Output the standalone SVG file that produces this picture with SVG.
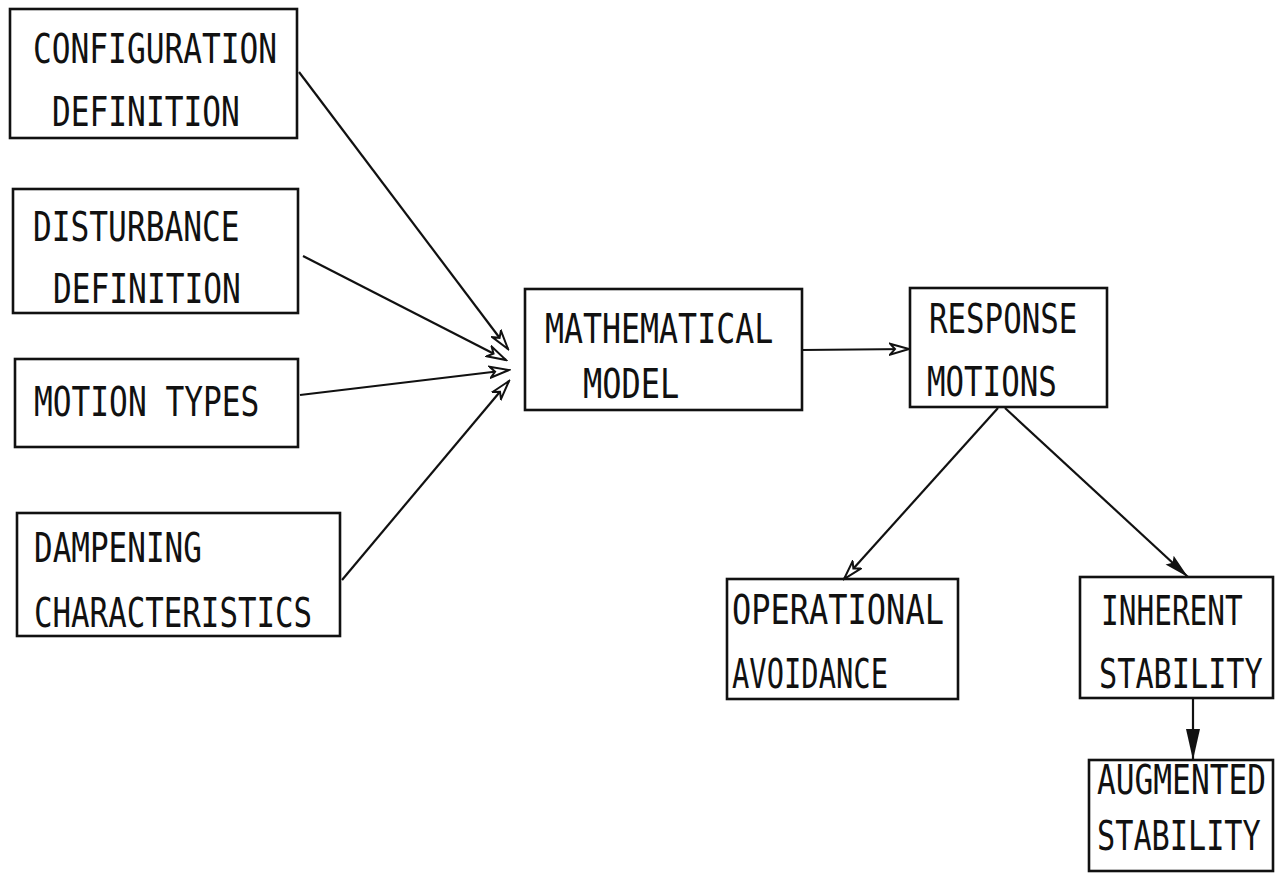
<svg xmlns="http://www.w3.org/2000/svg" width="1275" height="873" viewBox="0 0 1275 873">
<style>
.box{fill:none;stroke:#111;stroke-width:2.6}
.t{font-family:"DejaVu Sans Mono","Liberation Mono",monospace;font-size:40px;fill:#111}
.c{fill:none;stroke:#111;stroke-width:2.2}
</style>
<defs>
<marker id="open" markerUnits="userSpaceOnUse" markerWidth="22" markerHeight="14" refX="20" refY="7" orient="auto">
<path d="M1,1.5 L20,7 L1,12.5 L6,7 z" fill="#fff" stroke="#111" stroke-width="2"/>
</marker>
<marker id="fill" markerUnits="userSpaceOnUse" markerWidth="26" markerHeight="14" refX="25" refY="7" orient="auto">
<path d="M0,1 L25,7 L0,13 L4,7 z" fill="#111"/>
</marker>
<marker id="fillBig" markerUnits="userSpaceOnUse" markerWidth="32" markerHeight="16" refX="31" refY="8" orient="auto">
<path d="M0,1 L31,8 L0,15 z" fill="#111"/>
</marker>
</defs>
<rect width="1275" height="873" fill="#fff"/>
<g id="connectors">
<line class="c" x1="299" y1="72" x2="508" y2="349" marker-end="url(#open)"/>
<line class="c" x1="303" y1="256" x2="506" y2="360" marker-end="url(#open)"/>
<line class="c" x1="300" y1="395" x2="509" y2="370" marker-end="url(#open)"/>
<line class="c" x1="342" y1="580" x2="509" y2="381" marker-end="url(#open)"/>
<line class="c" x1="802" y1="350" x2="909" y2="349" marker-end="url(#open)"/>
<line class="c" x1="998" y1="408" x2="844" y2="579" marker-end="url(#open)"/>
<line class="c" x1="1005" y1="408" x2="1188" y2="577" marker-end="url(#fill)"/>
<line class="c" x1="1193" y1="698" x2="1193" y2="760" stroke-width="3.5" marker-end="url(#fillBig)"/>
</g>
<g id="config">
<rect class="box" x="10" y="9" width="287" height="129"/>
<text class="t" transform="translate(33,63) scale(0.78,1)">CONFIGURATION</text>
<text class="t" transform="translate(52,126) scale(0.78,1)">DEFINITION</text>
</g>
<g id="disturbance">
<rect class="box" x="13" y="189" width="285" height="124"/>
<text class="t" transform="translate(33,241) scale(0.78,1)">DISTURBANCE</text>
<text class="t" transform="translate(53,303) scale(0.78,1)">DEFINITION</text>
</g>
<g id="motion">
<rect class="box" x="15" y="359" width="283" height="88"/>
<text class="t" transform="translate(34,416) scale(0.78,1)">MOTION TYPES</text>
</g>
<g id="dampening">
<rect class="box" x="17" y="513" width="323" height="123"/>
<text class="t" transform="translate(34,562) scale(0.775,1)">DAMPENING</text>
<text class="t" transform="translate(34,627) scale(0.77,1)">CHARACTERISTICS</text>
</g>
<g id="math">
<rect class="box" x="525" y="289" width="277" height="121"/>
<text class="t" transform="translate(545,343) scale(0.79,1)">MATHEMATICAL</text>
<text class="t" transform="translate(583,398) scale(0.8,1)">MODEL</text>
</g>
<g id="response">
<rect class="box" x="910" y="288" width="197" height="119"/>
<text class="t" transform="translate(929,333) scale(0.77,1)">RESPONSE</text>
<text class="t" transform="translate(927,396) scale(0.77,1)">MOTIONS</text>
</g>
<g id="operational">
<rect class="box" x="727" y="579" width="231" height="120"/>
<text class="t" transform="translate(732,624) scale(0.8,1)">OPERATIONAL</text>
<text class="t" transform="translate(732,688) scale(0.72,1)">AVOIDANCE</text>
</g>
<g id="inherent">
<rect class="box" x="1080" y="577" width="193" height="121"/>
<text class="t" transform="translate(1101,625) scale(0.736,1)">INHERENT</text>
<text class="t" transform="translate(1099,688) scale(0.756,1)">STABILITY</text>
</g>
<g id="augmented">
<rect class="box" x="1089" y="760" width="184" height="111"/>
<text class="t" transform="translate(1097,794) scale(0.78,1)">AUGMENTED</text>
<text class="t" transform="translate(1097,850) scale(0.756,1)">STABILITY</text>
</g>
</svg>
